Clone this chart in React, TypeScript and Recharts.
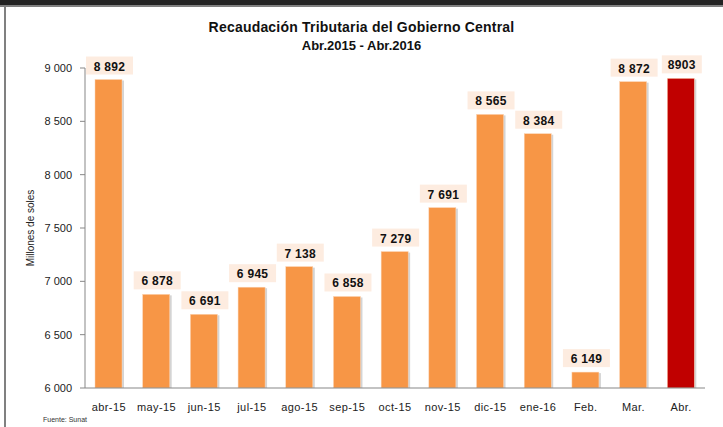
import { Bar, BarChart, Cell, LabelList, XAxis, YAxis } from "recharts";

const months = ["abr-15", "may-15", "jun-15", "jul-15", "ago-15", "sep-15", "oct-15", "nov-15", "dic-15", "ene-16", "Feb.", "Mar.", "Abr."];
const recaudacion = [8892, 6878, 6691, 6945, 7138, 6858, 7279, 7691, 8565, 8384, 6149, 8872, 8903];
const yTicks = [6000, 6500, 7000, 7500, 8000, 8500, 9000];
const edgeTicks = [0, 1, 2, 3, 4, 5, 6, 7, 8, 9, 10, 11, 12, 13];

const data = months.map((m, i) => ({ mes: m, valor: recaudacion[i], ultimo: i === months.length - 1 }));

const FONT = "'Liberation Sans', Arial, sans-serif";
const AXIS = "#878787";

function miles(v: number) {
  return String(v).replace(/\B(?=(\d{3})+(?!\d))/g, " ");
}

function BarShadow(props: any) {
  const { x, y, width, height, fill } = props;
  return (
    <g>
      <rect x={x + 2} y={y + 1} width={width} height={height - 1} fill="#d4d4d4" />
      <rect x={x} y={y} width={width} height={height} fill={fill} stroke="#fbd3b3" strokeWidth={0.5} />
    </g>
  );
}

function ValueLabel(props: any) {
  const { x, y, width, value, index } = props;
  const txt = index === months.length - 1 ? String(value) : miles(value);
  const w = txt.length * 7 + 12;
  const cx = x + width / 2 + 1;
  return (
    <g>
      <rect x={cx - w / 2} y={y - 23} width={w} height={18} fill="#fdece0" />
      <text x={cx} y={y - 9} textAnchor="middle" fontFamily={FONT} fontSize={12} fontWeight="bold" fill="#111" letterSpacing={0.3}>
        {txt}
      </text>
    </g>
  );
}

export default function App() {
  return (
    <div style={{ position: "fixed", left: 0, top: 0, width: 723, height: 427, background: "#fff", overflow: "hidden", fontFamily: FONT }}>
      <div style={{ position: "absolute", left: 0, top: 0, width: 723, height: 5, background: "#232323" }} />
      <div style={{ position: "absolute", left: 0, top: 5, width: 723, height: 2, background: "#808080" }} />
      <div style={{ position: "absolute", left: 4, top: 6, width: 2, height: 421, background: "#808080" }} />
      <div style={{ position: "absolute", left: 0, top: 19, width: 723, textAlign: "center", fontSize: 14, fontWeight: "bold", color: "#111", letterSpacing: 0.2 }}>
        Recaudación Tributaria del Gobierno Central
      </div>
      <div style={{ position: "absolute", left: 0, top: 38, width: 723, textAlign: "center", fontSize: 13, fontWeight: "bold", color: "#111" }}>
        Abr.2015 - Abr.2016
      </div>
      <div
        style={{
          position: "absolute",
          left: 30,
          top: 228,
          transform: "translate(-50%, -50%) rotate(-90deg)",
          fontSize: 10,
          color: "#222",
          whiteSpace: "nowrap",
        }}
      >
        Millones de soles
      </div>
      <div style={{ position: "absolute", left: 43, top: 416, fontSize: 7, color: "#333" }}>Fuente: Sunat</div>
      <div style={{ position: "absolute", left: 0, top: 0 }}>
        <BarChart width={723} height={427} data={data} margin={{ top: 68, right: 18, bottom: 9, left: 0 }} barSize={27}>
          <XAxis
            xAxisId="edge"
            type="number"
            domain={[0, 13]}
            ticks={edgeTicks}
            height={0}
            tick={false}
            axisLine={false}
            tickLine={{ stroke: AXIS }}
            tickSize={5}
          />
          <XAxis
            xAxisId="cat"
            dataKey="mes"
            height={30}
            axisLine={{ stroke: AXIS }}
            tickLine={false}
            tick={{ fill: "#222", fontSize: 11, fontFamily: FONT, letterSpacing: 0.4 }}
            tickMargin={9}
            interval={0}
          />
          <YAxis
            width={85}
            domain={[6000, 9000]}
            ticks={yTicks}
            tickFormatter={miles}
            axisLine={{ stroke: AXIS }}
            tickLine={{ stroke: AXIS }}
            tickSize={5}
            tickMargin={8}
            tick={{ fill: "#222", fontSize: 11, fontFamily: FONT }}
            allowDataOverflow
          />
          <Bar xAxisId="cat" dataKey="valor" shape={<BarShadow />} isAnimationActive={false}>
            {data.map((d) => (
              <Cell key={d.mes} fill={d.ultimo ? "#c00000" : "#f79646"} />
            ))}
            <LabelList dataKey="valor" content={<ValueLabel />} />
          </Bar>
        </BarChart>
      </div>
    </div>
  );
}
